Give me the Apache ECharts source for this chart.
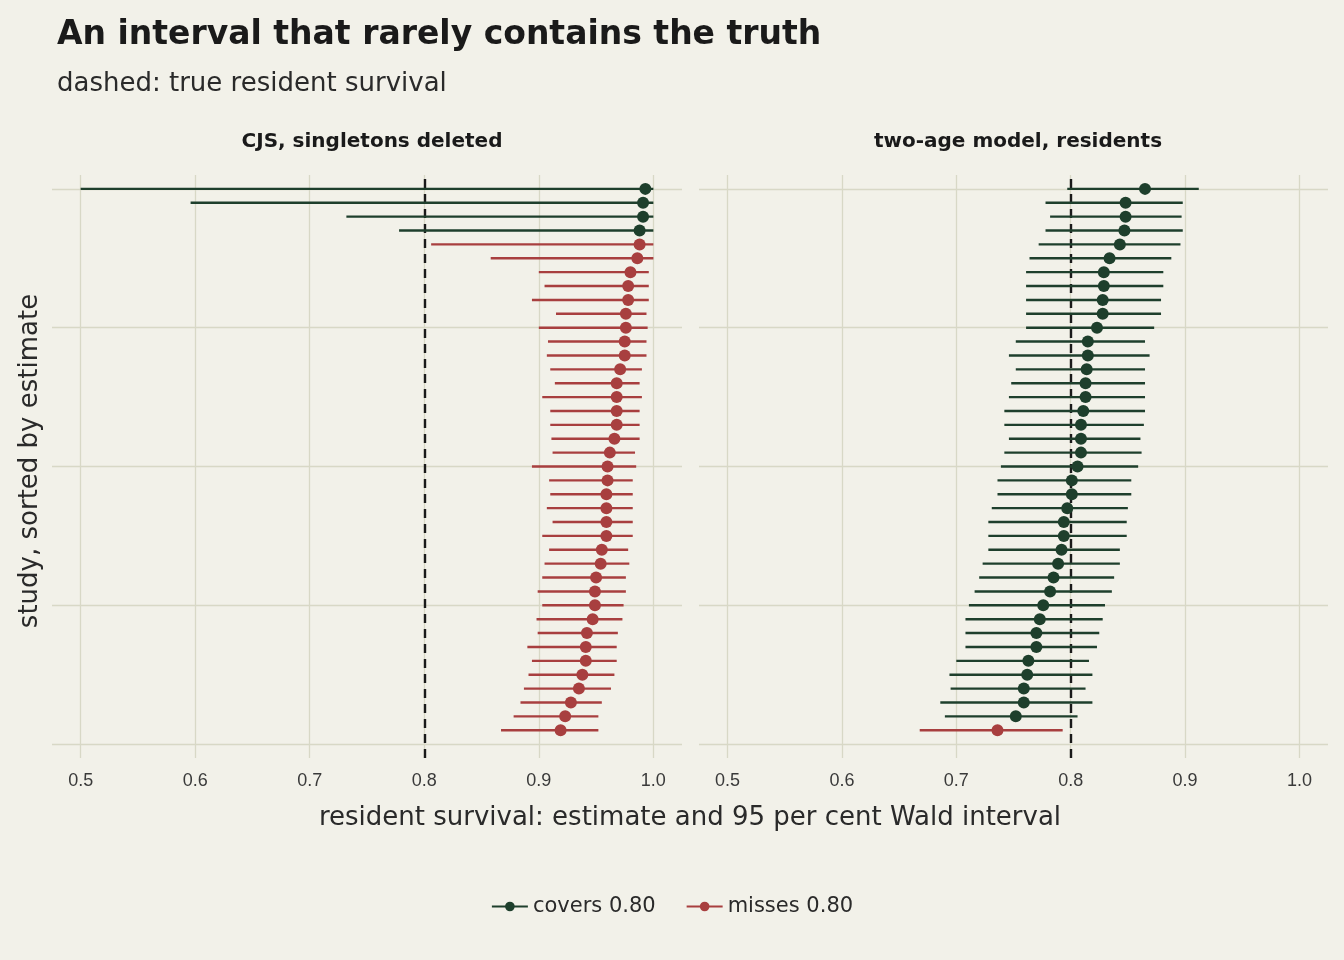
<!DOCTYPE html>
<html>
<head>
<meta charset="utf-8">
<script src="https://cdn.jsdelivr.net/npm/echarts@6/dist/echarts.min.js"></script>
<style>
html, body { margin: 0; padding: 0; background: #f2f1e9; }
#main { width: 1344px; height: 960px; }
</style>
</head>
<body>
<div id="main"></div>
<script>
// study rank, 1 = bottom .. 40 = top
var cjsEst = [0.919,0.923,0.928,0.935,0.938,0.941,0.941,0.942,0.947,0.949,0.949,0.950,0.954,0.955,0.959,0.959,0.959,0.959,0.960,0.960,0.962,0.966,0.968,0.968,0.968,0.968,0.971,0.975,0.975,0.976,0.976,0.978,0.978,0.980,0.986,0.988,0.988,0.991,0.991,0.993];
var cjsLo  = [0.867,0.878,0.884,0.887,0.891,0.894,0.890,0.899,0.898,0.903,0.899,0.903,0.905,0.909,0.903,0.912,0.907,0.910,0.909,0.894,0.912,0.911,0.910,0.910,0.903,0.914,0.910,0.907,0.908,0.900,0.915,0.894,0.905,0.900,0.858,0.806,0.778,0.732,0.596,0.500];
var cjsHi  = [0.952,0.952,0.955,0.963,0.966,0.968,0.968,0.969,0.973,0.974,0.976,0.976,0.979,0.978,0.982,0.982,0.982,0.982,0.982,0.985,0.984,0.988,0.988,0.988,0.990,0.988,0.990,0.994,0.994,0.995,0.994,0.996,0.996,0.996,1.000,1.000,1.000,1.000,1.000,1.000];

var twoEst = [0.736,0.752,0.759,0.759,0.762,0.763,0.770,0.770,0.773,0.776,0.782,0.785,0.789,0.792,0.794,0.794,0.797,0.801,0.801,0.806,0.809,0.809,0.809,0.811,0.813,0.813,0.814,0.815,0.815,0.823,0.828,0.828,0.829,0.829,0.834,0.843,0.847,0.848,0.848,0.865];
var twoLo  = [0.668,0.690,0.686,0.695,0.694,0.700,0.708,0.708,0.708,0.711,0.716,0.720,0.723,0.728,0.728,0.728,0.731,0.736,0.736,0.739,0.742,0.746,0.742,0.742,0.746,0.748,0.752,0.746,0.752,0.761,0.761,0.761,0.761,0.761,0.764,0.772,0.778,0.782,0.778,0.797];
var twoHi  = [0.793,0.806,0.819,0.813,0.819,0.816,0.823,0.825,0.828,0.830,0.836,0.838,0.843,0.843,0.849,0.849,0.850,0.853,0.853,0.859,0.862,0.861,0.864,0.865,0.865,0.865,0.865,0.869,0.865,0.873,0.879,0.879,0.881,0.881,0.888,0.896,0.898,0.897,0.898,0.912];

var trueSurvival = 0.80;
var xTicks = [0.5, 0.6, 0.7, 0.8, 0.9, 1.0];
var yTicks = [0, 10, 20, 30, 40];

var GREEN = '#1e3f2c';
var RED = '#a83f3f';
var GRIDC = '#d8d8c6';

function buildRows(est, lo, hi, covers) {
    var rows = [];
    for (var i = 0; i < est.length; i++) {
        var c = lo[i] <= trueSurvival && hi[i] >= trueSurvival;
        if (c === covers) rows.push([est[i], i + 1, lo[i], hi[i]]);
    }
    return rows;
}

function renderBar(color) {
    return function (params, api) {
        var y = api.value(1);
        var p0 = api.coord([api.value(2), y]);
        var p1 = api.coord([api.value(3), y]);
        var pc = api.coord([api.value(0), y]);
        return {
            type: 'group',
            children: [
                { type: 'line', shape: { x1: p0[0], y1: p0[1], x2: p1[0], y2: p1[1] }, style: { stroke: color, lineWidth: 2.4 } },
                { type: 'circle', shape: { cx: pc[0], cy: pc[1], r: 6 }, style: { fill: color } }
            ]
        };
    };
}

function gridSeries(idx) {
    var lines = [];
    xTicks.forEach(function (v) { lines.push({ xAxis: v }); });
    yTicks.forEach(function (v) { lines.push({ yAxis: v }); });
    return {
        type: 'line', xAxisIndex: idx, yAxisIndex: idx, data: [], silent: true,
        markLine: { symbol: 'none', silent: true, label: { show: false }, animation: false,
            lineStyle: { color: GRIDC, width: 1.3, type: 'solid' }, data: lines }
    };
}

function truthSeries(idx) {
    return {
        type: 'line', xAxisIndex: idx, yAxisIndex: idx, data: [], silent: true, z: 5,
        markLine: { symbol: 'none', silent: true, label: { show: false }, animation: false,
            lineStyle: { color: '#1a1a1a', width: 2.4, type: [9, 6] }, data: [{ xAxis: trueSurvival }] }
    };
}

function xAxisCfg(idx) {
    return {
        gridIndex: idx, type: 'value', min: 0.475, max: 1.025,
        axisLine: { show: false }, axisTick: { show: false }, splitLine: { show: false },
        axisLabel: {
            customValues: xTicks, color: '#3a3a3a', fontSize: 18, margin: 14,
            fontFamily: 'Liberation Sans, Arial, sans-serif',
            formatter: function (v) { return Math.abs(v - 1) < 1e-9 ? '1.0' : String(Math.round(v * 10) / 10); }
        }
    };
}

function yAxisCfg(idx) {
    return {
        gridIndex: idx, type: 'value', min: -1, max: 41,
        axisLine: { show: false }, axisTick: { show: false }, splitLine: { show: false },
        axisLabel: { show: false }
    };
}

var chart = echarts.init(document.getElementById('main'));
var font = 'DejaVu Sans, sans-serif';
chart.setOption({
    backgroundColor: '#f2f1e9',
    animation: false,
    textStyle: { fontFamily: font },
    title: [
        { text: 'An interval that rarely contains the truth', left: 52, top: 14,
          textStyle: { fontSize: 33, fontWeight: 'bold', color: '#1a1a1a', fontFamily: font } },
        { text: 'dashed: true resident survival', left: 52, top: 66,
          textStyle: { fontSize: 26, fontWeight: 'normal', color: '#2a2a2a', fontFamily: font } },
        { text: 'CJS, singletons deleted', left: 367, top: 127, textAlign: 'center',
          textStyle: { fontSize: 20, fontWeight: 'bold', color: '#1a1a1a', fontFamily: font } },
        { text: 'two-age model, residents', left: 1013, top: 127, textAlign: 'center',
          textStyle: { fontSize: 20, fontWeight: 'bold', color: '#1a1a1a', fontFamily: font } }
    ],
    graphic: [
        { type: 'text', x: 17, y: 461, rotation: Math.PI / 2, style: { text: 'study, sorted by estimate', fontSize: 26, fill: '#2a2a2a', fontFamily: font, align: 'center', verticalAlign: 'top' } },
        { type: 'text', x: 690, y: 818, style: { text: 'resident survival: estimate and 95 per cent Wald interval', fontSize: 26, fill: '#2a2a2a', fontFamily: font, align: 'center', verticalAlign: 'middle' } }
    ],
    legend: {
        bottom: 38, left: 'center', itemWidth: 36, itemHeight: 12, itemGap: 30,
        textStyle: { fontSize: 21, color: '#2a2a2a', fontFamily: font },
        data: ['covers 0.80', 'misses 0.80']
    },
    grid: [
        { left: 52, width: 630, top: 175, height: 583 },
        { left: 699, width: 629, top: 175, height: 583 }
    ],
    xAxis: [xAxisCfg(0), xAxisCfg(1)],
    yAxis: [yAxisCfg(0), yAxisCfg(1)],
    series: [
        { name: 'covers 0.80', type: 'line', data: [], symbol: 'circle', symbolSize: 11, itemStyle: { color: GREEN }, lineStyle: { color: GREEN, width: 2.4 } },
        { name: 'misses 0.80', type: 'line', data: [], symbol: 'circle', symbolSize: 11, itemStyle: { color: RED }, lineStyle: { color: RED, width: 2.4 } },
        gridSeries(0), gridSeries(1),
        truthSeries(0), truthSeries(1),
        { name: 'covers 0.80', type: 'custom', xAxisIndex: 0, yAxisIndex: 0, z: 10, renderItem: renderBar(GREEN), data: buildRows(cjsEst, cjsLo, cjsHi, true) },
        { name: 'misses 0.80', type: 'custom', xAxisIndex: 0, yAxisIndex: 0, z: 10, renderItem: renderBar(RED), data: buildRows(cjsEst, cjsLo, cjsHi, false) },
        { name: 'covers 0.80', type: 'custom', xAxisIndex: 1, yAxisIndex: 1, z: 10, renderItem: renderBar(GREEN), data: buildRows(twoEst, twoLo, twoHi, true) },
        { name: 'misses 0.80', type: 'custom', xAxisIndex: 1, yAxisIndex: 1, z: 10, renderItem: renderBar(RED), data: buildRows(twoEst, twoLo, twoHi, false) }
    ]
});
</script>
</body>
</html>
